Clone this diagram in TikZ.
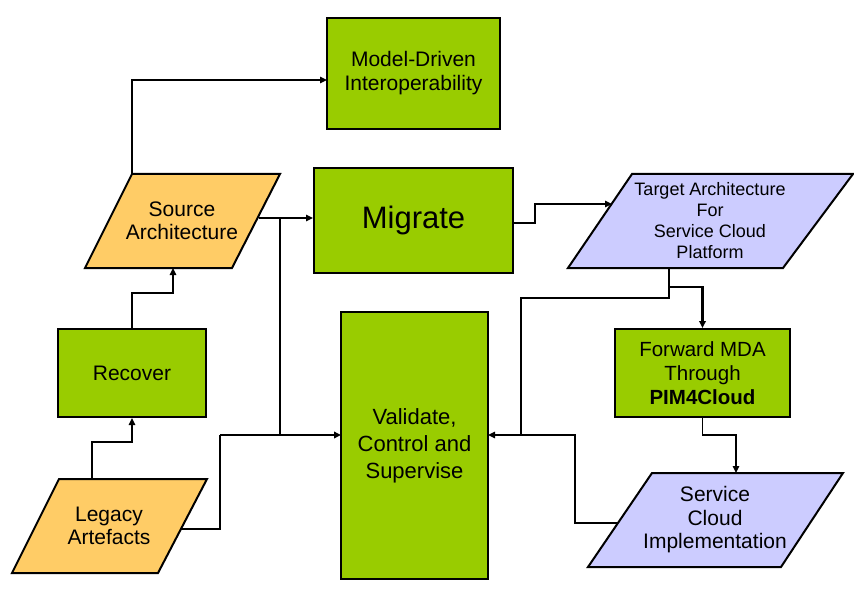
\documentclass[tikz,border=0pt]{standalone}
\usepackage{fontspec}
\setmainfont{Liberation Sans}
\usetikzlibrary{arrows.meta}
\definecolor{grn}{HTML}{99CC00}
\definecolor{org}{HTML}{FFCC66}
\definecolor{lav}{HTML}{CCCCFF}
\begin{document}
\begin{tikzpicture}[x=1pt,y=-1pt,
  box/.style={draw=black, line width=2pt, fill=grn, inner sep=0pt, align=center, font=\fontsize{21}{24}\selectfont},
  parbox/.style={draw=black, line width=2pt},
  lbl/.style={inner sep=0pt, align=center, font=\fontsize{21}{23.5}\selectfont},
  ln/.style={line width=1.5pt},
  conn/.style={line width=1.5pt, -{Triangle[length=7pt,width=6.5pt]}},
  thk/.style={line width=2.5pt, -{Triangle[length=7pt,width=6.5pt]}},
]
\useasboundingbox (0,0) rectangle (854,596);

% green boxes
\node[box, minimum width=173pt, minimum height=111pt] (mdi) at (413.5,73.5) {Model-Driven\\Interoperability};
\node[box, minimum width=199pt, minimum height=105pt, font=\fontsize{31}{36}\selectfont] (mig) at (413.5,220.5) {Migrate};
\node[box, minimum width=148pt, minimum height=88pt] (rec) at (132,373) {Recover};
\node[box, minimum width=147pt, minimum height=267pt, font=\fontsize{22}{27}\selectfont] (val) at (414.5,445.5) {Validate,\\Control and\\Supervise};
\node[box, minimum width=175pt, minimum height=88pt, font=\fontsize{20.5}{24.3}\selectfont] (fwd) at (702.5,373) {Forward MDA\\Through\\\textbf{PIM4Cloud}};

% parallelograms
\filldraw[parbox, fill=org] (132,174) -- (280,174) -- (232,268) -- (85,268) -- cycle;
\node[lbl] (src) at (182,221) {Source\\Architecture};
\filldraw[parbox, fill=org] (59,479) -- (207,479) -- (158,573) -- (12,573) -- cycle;
\node[lbl] (leg) at (109,526) {Legacy\\Artefacts};
\filldraw[parbox, fill=lav] (632,174) -- (853,174) -- (783,268) -- (568,268) -- cycle;
\node[lbl, font=\fontsize{18}{21}\selectfont] (tgt) at (710,220.5) {Target Architecture\\For\\Service Cloud\\Platform};
\filldraw[parbox, fill=lav] (652,473) -- (843,473) -- (781,567) -- (588,567) -- cycle;
\node[lbl] (svc) at (715,520) {Service\\Cloud\\Implementation};

% anchor points on the parallelograms
\coordinate (srcTop) at (132,174);
\coordinate (srcRight) at (259,218);
\coordinate (srcBot) at (173,268);
\coordinate (legTop) at (92,479);
\coordinate (legRight) at (181,529);
\coordinate (tgtLeft) at (612,204);
\coordinate (tgtBot) at (669,268);
\coordinate (svcTop) at (736,473);
\coordinate (svcLeft) at (618,523);
\coordinate (valL) at (341,435);
\coordinate (valR) at (488,435);
\coordinate (jA) at (280,218);
\coordinate (jB) at (220,435);
\coordinate (jC) at (669,287);
\coordinate (jD) at (521,435);

% connectors
\draw[conn] (srcTop) -- (132,80) -- (327,80);
\draw[conn] (srcRight) -- (srcRight -| mig.west);
\draw[ln] (jA) -- (280,435);
\draw[ln] (legRight) -- (220,529) -- (jB);
\draw[thk] (jB) -- (valL);
\draw[conn] (legTop) -- (92,442) -- (132,442) -- (rec.south);
\draw[conn] (rec.north) -- (132,293) -- (173,293) -- (srcBot);
\draw[conn] (513,223) -- (535,223) -- (535,204) -- (tgtLeft);
\draw[ln] (tgtBot) -- (jC);
\draw[thk] (jC) -- (702.5,287) -- (fwd.north);
\draw[ln] (jC) -- (669,298) -- (521,298) -- (jD);
\draw[ln] (svcLeft) -- (575,523) -- (575,435) -- (jD);
\draw[conn] (jD) -- (valR);
\draw[conn] (fwd.south) -- (702.5,435) -- (736,435) -- (svcTop);
\end{tikzpicture}
\end{document}
